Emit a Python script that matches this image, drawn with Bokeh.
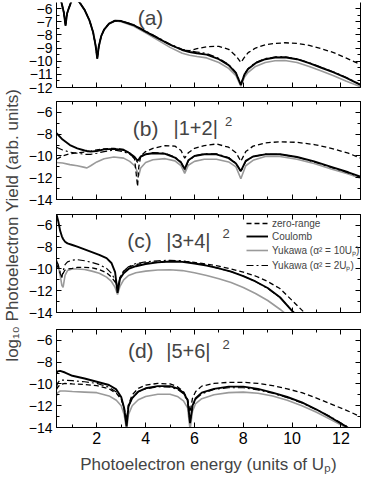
import math
from bokeh.plotting import figure
from bokeh.layouts import row, column
from bokeh.models import (Range1d, LinearAxis, FixedTicker, Label, Legend, LegendItem,
                          CustomLabelingPolicy)
from bokeh.embed import file_html
from bokeh.resources import INLINE

# ---------------- data ----------------
x_ticks = [2, 4, 6, 8, 10, 12]
x_minor = [1, 3, 5, 7, 9, 11]

# panel (a)
xa = [0.35, 0.55, 0.65, 0.72, 0.78, 0.85, 0.95, 1.1, 1.3, 1.5, 1.7, 1.85, 1.95, 2.02, 2.08, 2.18,
      2.3, 2.5, 2.75, 3.0, 3.5, 4.0, 4.5, 5.0, 5.5, 5.8, 6.1, 6.5, 7.0, 7.4, 7.7, 7.9, 8.05, 8.2,
      8.5, 8.9, 9.3, 9.7, 10.2, 10.7, 11.2, 11.7, 12.2, 12.8]
a_coulomb = [-5.2, -5.5, -6.3, -7.3, -6.4, -6.0, -5.5, -5.2, -5.55, -6.1, -6.9, -7.8, -8.8, -9.8, -8.9, -8.1,
             -7.6, -7.15, -6.92, -6.95, -7.25, -7.75, -8.25, -8.75, -9.15, -9.3, -9.4, -9.5, -9.85, -10.3,
             -10.9, -11.8, -11.0, -10.6, -10.15, -9.85, -9.72, -9.7, -9.85, -10.15, -10.5, -10.85, -11.25, -11.8]
a_yuk10 = [-5.2, -5.5, -6.3, -7.3, -6.4, -6.0, -5.5, -5.2, -5.55, -6.1, -6.9, -7.8, -8.8, -9.8, -8.9, -8.1,
           -7.6, -7.17, -6.95, -7.0, -7.33, -7.85, -8.4, -8.95, -9.4, -9.55, -9.65, -9.75, -10.1, -10.55,
           -11.1, -11.9, -11.2, -10.85, -10.4, -10.1, -9.97, -9.95, -10.1, -10.4, -10.75, -11.1, -11.5, -11.95]
a_yuk2 = [-5.2, -5.5, -6.3, -7.3, -6.4, -6.0, -5.5, -5.2, -5.55, -6.1, -6.9, -7.8, -8.8, -9.8, -8.9, -8.1,
          -7.6, -7.15, -6.92, -6.95, -7.22, -7.7, -8.2, -8.7, -9.1, -9.22, -9.3, -9.42, -9.78, -10.25,
          -10.85, -11.75, -10.95, -10.55, -10.1, -9.8, -9.68, -9.66, -9.82, -10.12, -10.47, -10.82, -11.22, -11.78]
a_zero = [-5.2, -5.5, -6.3, -7.3, -6.4, -6.0, -5.5, -5.2, -5.55, -6.1, -6.9, -7.8, -8.8, -9.8, -8.9, -8.1,
          -7.6, -7.15, -6.92, -6.95, -7.25, -7.75, -8.25, -8.75, -9.15, -9.2, -9.05, -8.9, -8.87, -9.1,
          -9.6, -10.1, -9.7, -9.35, -9.0, -8.75, -8.65, -8.6, -8.65, -8.8, -9.05, -9.35, -9.75, -10.25]

# panel (b)  |1+2|^2
xb = [0.35, 0.6, 0.9, 1.2, 1.5, 1.6, 1.75, 2.0, 2.3, 2.7, 3.1, 3.35, 3.55, 3.67, 3.72, 3.8, 4.0, 4.3,
      4.8, 5.2, 5.45, 5.6, 5.75, 6.0, 6.4, 6.9, 7.4, 7.7, 7.9, 8.1, 8.4, 8.9, 9.5, 10.2, 10.9, 11.6, 12.3, 12.8]
b_coulomb = [-7.9, -8.5, -9.0, -9.3, -9.5, -9.55, -9.6, -9.55, -9.4, -9.35, -9.45, -9.75, -10.1, -10.45,
             -10.3, -10.05, -9.85, -9.75, -9.8, -10.15, -10.6, -11.2, -10.4, -10.0, -9.85, -9.85, -10.2,
             -10.7, -11.4, -10.45, -10.05, -9.85, -9.85, -10.1, -10.5, -11.0, -11.5, -11.9]
b_yuk10 = [-10.6, -10.65, -10.8, -10.9, -11.05, -11.1, -10.9, -10.55, -10.25, -10.1, -10.2, -10.5, -10.9,
           -11.5, -11.8, -11.1, -10.6, -10.35, -10.25, -10.45, -10.9, -11.6, -10.85, -10.5, -10.3, -10.3,
           -10.55, -11.0, -12.1, -10.9, -10.4, -10.05, -10.05, -10.3, -10.7, -11.2, -11.65, -12.05]
b_yuk2 = [-9.2, -9.45, -9.65, -9.75, -9.85, -9.85, -9.85, -9.75, -9.6, -9.45, -9.6, -9.85, -10.2, -10.6,
          -10.4, -10.1, -9.85, -9.7, -9.75, -10.1, -10.55, -11.3, -10.45, -10.0, -9.8, -9.8, -10.15, -10.65,
          -11.45, -10.5, -10.05, -9.85, -9.85, -10.1, -10.55, -11.05, -11.55, -11.95]
b_zero = [-10.3, -10.0, -9.8, -9.7, -9.65, -9.6, -9.55, -9.45, -9.35, -9.3, -9.4, -9.75, -10.3, -12.8,
          -11.0, -10.0, -9.6, -9.3, -9.05, -9.1, -9.5, -10.2, -9.7, -9.3, -9.05, -8.9, -9.2, -9.7, -10.5,
          -9.6, -9.1, -8.8, -8.7, -8.75, -8.95, -9.3, -9.75, -10.2]

# panel (c)  |3+4|^2
xc = [0.35, 0.42, 0.5, 0.57, 0.62, 0.7, 0.8, 1.0, 1.2, 1.5, 1.8, 2.1, 2.4, 2.6, 2.75, 2.85, 2.95, 3.1,
      3.3, 3.6, 4.0, 4.5, 5.0, 5.5, 6.0, 6.5, 7.0, 7.5, 8.0, 8.5, 9.0, 9.5, 10.0, 10.5, 11.0]
c_coulomb = [-5.0, -5.6, -6.5, -7.0, -7.25, -7.5, -7.65, -7.8, -7.95, -8.2, -8.45, -8.7, -9.0, -9.45,
             -10.3, -12.2, -10.9, -10.4, -10.0, -9.75, -9.55, -9.4, -9.32, -9.35, -9.5, -9.7, -9.95,
             -10.25, -10.65, -11.15, -11.75, -12.6, -13.85, -14.9, -16.0]
c_yuk10 = [-9.2, -9.7, -10.6, -11.5, -11.7, -10.6, -10.15, -10.0, -10.0, -10.05, -10.2, -10.4, -10.75,
           -11.15, -11.7, -12.35, -11.6, -11.0, -10.6, -10.35, -10.2, -10.1, -10.08, -10.15, -10.35,
           -10.6, -10.9, -11.25, -11.7, -12.25, -12.9, -13.7, -14.6, -15.5, -16.5]
c_yuk2 = [-9.3, -9.6, -10.3, -10.8, -10.2, -9.6, -9.35, -9.2, -9.15, -9.25, -9.4, -9.6, -9.95, -10.4,
          -11.0, -11.8, -10.8, -10.2, -9.8, -9.5, -9.35, -9.25, -9.2, -9.25, -9.45, -9.65, -9.95, -10.25,
          -10.65, -11.15, -11.8, -12.6, -13.85, -14.9, -16.0]
c_zero = [-9.6, -9.9, -10.4, -10.7, -10.4, -10.1, -10.0, -9.95, -9.85, -9.85, -9.9, -10.05, -10.35,
          -10.75, -11.2, -11.6, -10.8, -10.2, -9.85, -9.6, -9.45, -9.35, -9.3, -9.3, -9.4, -9.55, -9.75,
          -10.0, -10.3, -10.65, -11.15, -11.8, -12.9, -14.0, -15.1]

# panel (d)  |5+6|^2
xd = [0.35, 0.4, 0.5, 0.7, 1.0, 1.5, 2.0, 2.5, 2.8, 3.0, 3.12, 3.22, 3.3, 3.45, 3.7, 4.0, 4.5, 5.0,
      5.3, 5.55, 5.72, 5.82, 5.92, 6.05, 6.3, 6.8, 7.4, 8.0, 8.6, 9.2, 9.8, 10.4, 11.0, 11.6, 12.2, 12.8]
d_coulomb = [-9.0, -8.85, -8.8, -8.95, -9.25, -9.5, -9.8, -10.1, -10.5, -11.2, -12.2, -13.9, -12.0,
             -11.3, -10.7, -10.4, -10.2, -10.2, -10.4, -10.8, -11.5, -13.6, -12.0, -11.3, -10.8, -10.45,
             -10.25, -10.25, -10.45, -10.8, -11.2, -11.7, -12.35, -13.1, -13.9, -14.8]
d_yuk10 = [-11.1, -10.8, -10.65, -10.65, -10.7, -10.75, -10.8, -11.1, -11.5, -12.0, -12.8, -14.2, -12.8,
           -12.0, -11.45, -11.15, -10.95, -10.95, -11.15, -11.55, -12.2, -14.2, -12.5, -11.8, -11.35,
           -11.0, -10.8, -10.75, -10.85, -11.1, -11.5, -12.0, -12.6, -13.3, -14.0, -14.9]
d_yuk2 = [-10.3, -9.9, -9.65, -9.65, -9.7, -9.8, -9.95, -10.3, -10.75, -11.3, -12.3, -13.8, -12.1, -11.3,
          -10.7, -10.45, -10.25, -10.3, -10.5, -10.9, -11.6, -13.5, -12.1, -11.4, -10.9, -10.5, -10.35,
          -10.35, -10.55, -10.85, -11.25, -11.75, -12.35, -13.05, -13.85, -14.7]
d_zero = [-10.5, -10.3, -10.05, -9.95, -10.0, -10.05, -10.15, -10.45, -10.85, -11.4, -12.2, -13.3, -11.9,
          -11.0, -10.4, -10.1, -9.95, -10.0, -10.25, -10.7, -11.4, -12.6, -11.3, -10.7, -10.2, -9.95,
          -9.85, -9.85, -9.95, -10.15, -10.45, -10.8, -11.3, -11.85, -12.4, -13.0]

series_labels = ["zero-range", "Coulomb", "Yukawa (\u03b1\u00b2 = 10U\u209a)", "Yukawa (\u03b1\u00b2 = 2U\u209a)"]
panel_tags = ["(a)", "(b)", "(c)", "(d)"]
panel_terms = ["", "|1+2|", "|3+4|", "|5+6|"]

a_yticks = [-12, -11, -10, -9, -8, -7, -6]
a_yminor = [-11.5, -10.5, -9.5, -8.5, -7.5, -6.5, -5.5]
yticks = [-14, -12, -10, -8, -6]
yminor = [-13, -11, -9, -7, -5]

FONT = "Liberation Sans"
X0, X1 = 0.35, 12.8
PW = 342


def style_axis(ax, ticks, minor, show_labels, size="14px"):
    ax.ticker = FixedTicker(ticks=ticks, minor_ticks=minor)
    ax.major_tick_in = 5
    ax.major_tick_out = 0
    ax.minor_tick_in = 3
    ax.minor_tick_out = 0
    ax.axis_line_color = "black"
    ax.axis_line_width = 1
    ax.major_tick_line_color = "black"
    ax.minor_tick_line_color = "black"
    if show_labels:
        ax.major_label_text_font = FONT
        ax.major_label_text_font_size = size
        ax.major_label_text_color = "black"
        ax.major_label_standoff = 4
    else:
        # tick marks only: no label is drawn on this axis
        ax.major_label_policy = CustomLabelingPolicy(code="return new Set()")
        ax.major_label_text_font_size = "1px"
        ax.major_label_standoff = 0


def make_panel(height, btop, bbot, yr, yt, ym, top_axis=True, xlabels=False):
    p = figure(width=PW, height=height, x_range=Range1d(X0, X1), y_range=Range1d(*yr),
               output_backend="svg", toolbar_location=None,
               min_border_left=32, min_border_right=6, min_border_top=btop, min_border_bottom=bbot)
    p.grid.visible = False
    p.background_fill_color = "white"
    p.outline_line_color = "black" if top_axis else None
    style_axis(p.below[0], x_ticks, x_minor, xlabels, "16px")
    style_axis(p.left[0], yt, ym, True, "14px")
    r = LinearAxis()
    style_axis(r, yt, ym, False)
    p.add_layout(r, "right")
    if top_axis:
        t = LinearAxis()
        style_axis(t, x_ticks, x_minor, False)
        p.add_layout(t, "above")
    return p


def draw(p, x, zero, coul, y10, y2):
    rg = p.line(x, y10, line_color="#9a9a9a", line_width=1.6)
    rz = p.line(x, zero, line_color="black", line_width=1.3, line_dash="5 3")
    r2 = p.line(x, y2, line_color="black", line_width=1.2, line_dash="7 3 2 3")
    rc = p.line(x, coul, line_color="black", line_width=1.9)
    return rz, rc, rg, r2


def tag(p, i, x, y, xs, ys, xsup, ysup):
    p.add_layout(Label(x=x, y=y, text=panel_tags[i], text_font=FONT, text_font_size="21px",
                       text_align="center", text_baseline="middle"))
    if panel_terms[i]:
        p.add_layout(Label(x=xs, y=ys, text=panel_terms[i], text_font=FONT, text_font_size="20px",
                           text_align="center", text_baseline="middle"))
        p.add_layout(Label(x=xsup, y=ysup, text="2", text_font=FONT, text_font_size="13px",
                           text_align="center", text_baseline="middle"))


fa = make_panel(94, 2, 7, (-12, -5.54), a_yticks, a_yminor, top_axis=False)
draw(fa, xa, a_zero, a_coulomb, a_yuk10, a_yuk2)
tag(fa, 0, 4.2, -6.65, 0, 0, 0, 0)

fb = make_panel(112, 7, 7, (-14, -5), yticks, yminor)
draw(fb, xb, b_zero, b_coulomb, b_yuk10, b_yuk2)
tag(fb, 1, 4.0, -7.45, 6.05, -7.45, 7.4, -6.8)

fc = make_panel(115, 8, 9, (-14, -5), yticks, yminor)
rz, rc, rg, r2 = draw(fc, xc, c_zero, c_coulomb, c_yuk10, c_yuk2)
tag(fc, 2, 3.75, -7.4, 5.75, -7.4, 7.3, -6.75)
legend = Legend(items=[LegendItem(label=series_labels[0], renderers=[rz]),
                       LegendItem(label=series_labels[1], renderers=[rc]),
                       LegendItem(label=series_labels[2], renderers=[rg]),
                       LegendItem(label=series_labels[3], renderers=[r2])],
                location=(190, 40), background_fill_alpha=0, border_line_color=None,
                label_text_font=FONT, label_text_font_size="10px", glyph_width=22, glyph_height=10,
                label_height=12, spacing=1, padding=0, margin=0, label_standoff=4)
fc.add_layout(legend)

fd = make_panel(157, 8, 51, (-14, -5), yticks, yminor, xlabels=True)
draw(fd, xd, d_zero, d_coulomb, d_yuk10, d_yuk2)
tag(fd, 3, 3.8, -6.95, 5.75, -6.95, 7.3, -6.35)
xb_axis = fd.below[0]
xb_axis.axis_label = "Photoelectron energy (units of U\u209a)"
xb_axis.axis_label_text_font = FONT
xb_axis.axis_label_text_font_size = "17px"
xb_axis.axis_label_text_font_style = "normal"
xb_axis.axis_label_standoff = 8

lab = figure(width=24, height=478, x_range=Range1d(0, 1), y_range=Range1d(0, 1),
             output_backend="svg", toolbar_location=None, min_border=0,
             x_axis_location=None, y_axis_location=None)
lab.outline_line_color = None
lab.grid.visible = False
lab.add_layout(Label(x=0.5, y=0.53, text="log\u2081\u2080 Photoelectron Yield (arb. units)",
                     angle=math.pi / 2, text_font=FONT, text_font_size="17px",
                     text_align="center", text_baseline="middle"))

layout = row(lab, column(fa, fb, fc, fd, spacing=0), spacing=0)
open("out.html", "w").write(file_html(layout, INLINE))
